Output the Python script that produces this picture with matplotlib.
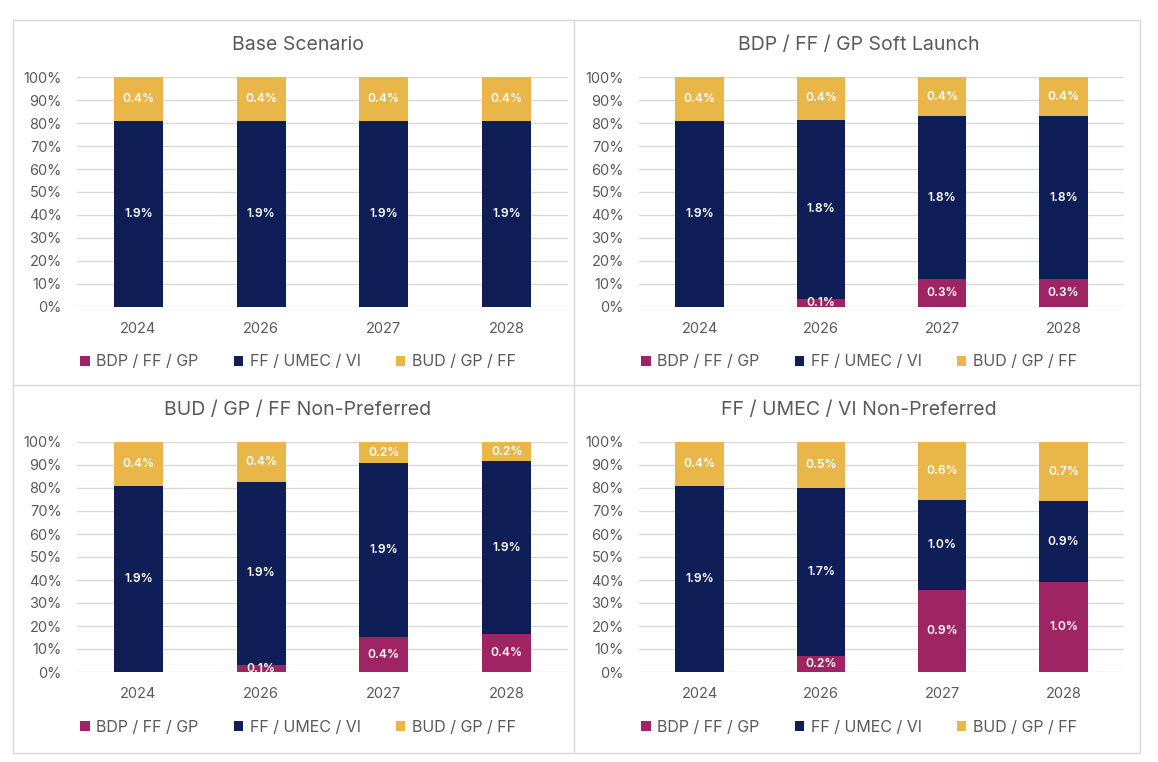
import numpy as np
import matplotlib
matplotlib.use("Agg")
import matplotlib.pyplot as plt
from matplotlib.lines import Line2D
from matplotlib.patches import Rectangle

plt.rcParams['font.family'] = ['Inter', 'DejaVu Sans']

years = ['2024', '2026', '2027', '2028']
series = ['BDP / FF / GP', 'FF / UMEC / VI', 'BUD / GP / FF']
colors = ['#9E2463', '#101E57', '#E8B649']
titles = ['Base Scenario', 'BDP / FF / GP Soft Launch',
          'BUD / GP / FF Non-Preferred', 'FF / UMEC / VI Non-Preferred']

# bar heights (share of 100%)
base_share = [[0, 0, 0, 0], [81.0, 81.0, 81.0, 81.0], [19.0, 19.0, 19.0, 19.0]]
soft_share = [[0, 3.3, 12.0, 12.0], [81.0, 78.3, 71.0, 71.0], [19.0, 18.4, 17.0, 17.0]]
bud_share = [[0, 2.9, 15.1, 16.4], [81.0, 79.9, 75.6, 75.2], [19.0, 17.2, 9.3, 8.4]]
ffu_share = [[0, 6.8, 35.8, 39.1], [81.0, 73.1, 39.1, 35.1], [19.0, 20.1, 25.1, 25.8]]

# data labels shown on the segments (None = no label)
base_lbl = [[None] * 4, ['1.9%'] * 4, ['0.4%'] * 4]
soft_lbl = [[None, '0.1%', '0.3%', '0.3%'], ['1.9%', '1.8%', '1.8%', '1.8%'],
            ['0.4%'] * 4]
bud_lbl = [[None, '0.1%', '0.4%', '0.4%'], ['1.9%'] * 4,
           ['0.4%', '0.4%', '0.2%', '0.2%']]
ffu_lbl = [[None, '0.2%', '0.9%', '1.0%'], ['1.9%', '1.7%', '1.0%', '0.9%'],
           ['0.4%', '0.5%', '0.6%', '0.7%']]

shares = [base_share, soft_share, bud_share, ffu_share]
labels = [base_lbl, soft_lbl, bud_lbl, ffu_lbl]

W, H = 1158, 762
fig = plt.figure(figsize=(W / 100, H / 100), dpi=100)

# axes boxes in pixels: left, right, top(100%), bottom(0%)
boxes = [(77, 568, 77.3, 306.7), (639, 1124, 77.3, 306.7),
         (77, 568, 442, 672), (639, 1124, 442, 672)]
panel_cx = [298, 859, 298, 859]
title_y = [45, 45, 410, 410]
legend_y = [362, 362, 727, 727]

grey = '#595959'
x = np.arange(len(years))

for i in range(4):
    l, r, t, b = boxes[i]
    ax = fig.add_axes([l / W, 1 - b / H, (r - l) / W, (b - t) / H])
    bottom = np.zeros(len(years))
    handles = []
    for k in range(3):
        vals = np.array(shares[i][k], dtype=float)
        bars = ax.bar(x, vals, 0.4, bottom=bottom, color=colors[k],
                      label=series[k], zorder=3, linewidth=0)
        handles.append(bars)
        for j in range(len(years)):
            lab = labels[i][k][j]
            if lab is not None:
                ax.text(x[j], bottom[j] + vals[j] / 2, lab, ha='center',
                        va='center', color='white', fontsize=8.7,
                        fontweight='semibold', zorder=4, clip_on=True)
        bottom += vals
    ax.set_xlim(-0.5, len(years) - 0.5)
    ax.set_ylim(0, 100)
    ax.set_yticks(np.arange(0, 101, 10))
    ax.set_yticklabels([f'{v}%' for v in range(0, 101, 10)])
    ax.set_xticks(x)
    ax.set_xticklabels(years)
    ax.tick_params(length=0, labelsize=10.5, colors=grey)
    ax.tick_params(axis='x', pad=11)
    ax.tick_params(axis='y', pad=11)
    ax.grid(axis='y', color='#D9D9D9', linewidth=1, zorder=0)
    for s in ax.spines.values():
        s.set_visible(False)
    ax.set_facecolor('none')

    fig.text(panel_cx[i] / W, 1 - title_y[i] / H, titles[i], ha='center',
             va='center', fontsize=14, color=grey)
    fig.legend(handles=handles, loc='center', ncol=3, frameon=False,
               bbox_to_anchor=(panel_cx[i] / W, 1 - legend_y[i] / H),
               fontsize=11.5, labelcolor=grey, handlelength=0.6,
               handleheight=0.6, handletextpad=0.4, columnspacing=2.2)

# chart borders
border = '#D9D9D9'
fig.add_artist(Rectangle((12.7 / W, 1 - 753 / H), (1140 - 12.7) / W,
                         (753 - 20) / H, fill=False, edgecolor=border,
                         linewidth=1, transform=fig.transFigure))
fig.add_artist(Line2D([574 / W, 574 / W], [1 - 20 / H, 1 - 753 / H],
                      color=border, linewidth=1, transform=fig.transFigure))
fig.add_artist(Line2D([12.7 / W, 1140 / W], [1 - 385 / H, 1 - 385 / H],
                      color=border, linewidth=1, transform=fig.transFigure))

fig.savefig('out.png', dpi=100, facecolor='white')
